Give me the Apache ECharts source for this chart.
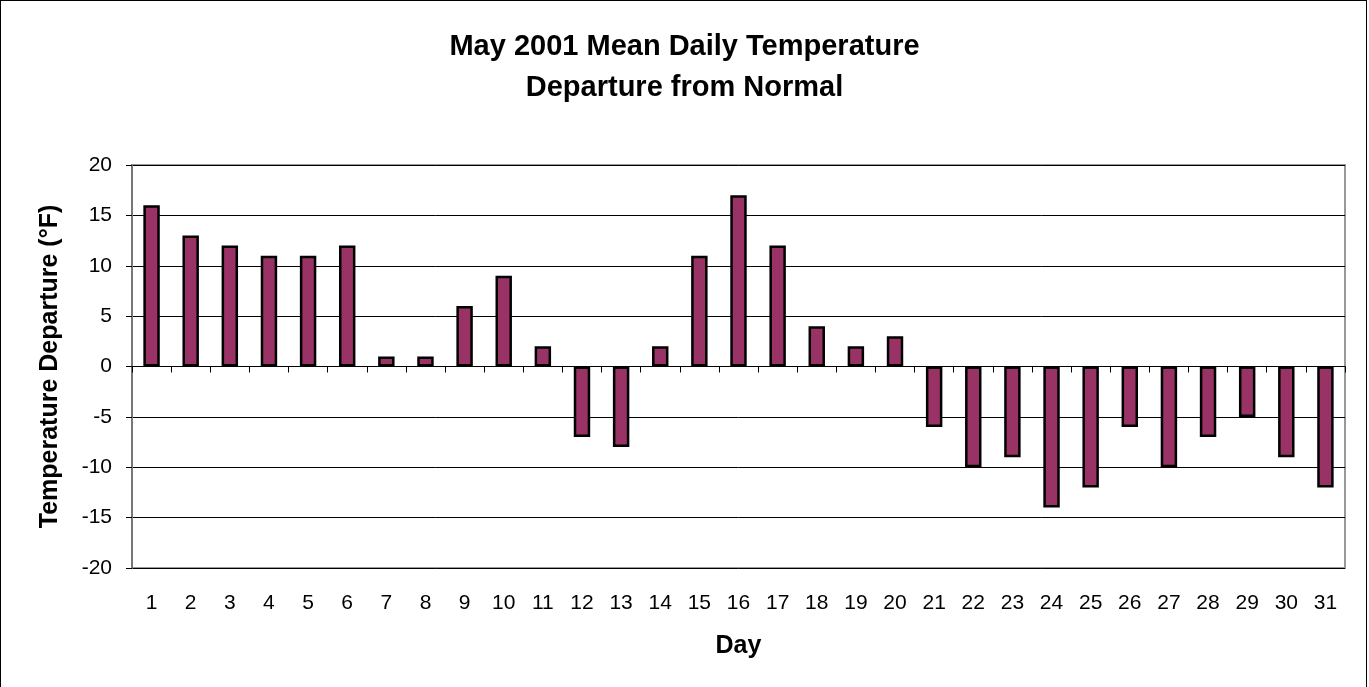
<!DOCTYPE html>
<html>
<head>
<meta charset="utf-8">
<script src="https://cdn.jsdelivr.net/npm/echarts@6/dist/echarts.min.js"></script>
<style>
  html, body { margin: 0; padding: 0; background: #fff; }
  #chart { width: 1369px; height: 687px; }
  #frame { position: absolute; left: 0; top: 0; width: 1365px; height: 686px; border: 1px solid #000; pointer-events: none; }
</style>
</head>
<body>
<div id="chart"></div>
<div id="frame"></div>
<script>
// data
const days = [];
for (let d = 1; d <= 31; d++) days.push(String(d));
const departure = [16, 13, 12, 11, 11, 12, 1, 1, 6, 9, 2, -7, -8, 2, 11, 17, 12, 4, 2, 3,
  -6, -10, -9, -14, -12, -6, -10, -7, -5, -9, -12];

const fontFam = "Liberation Sans, Arial, sans-serif";

const chart = echarts.init(document.getElementById("chart"));
chart.setOption({
  animation: false,
  title: {
    text: "May 2001 Mean Daily Temperature\nDeparture from Normal",
    left: "center",
    top: 21,
    textStyle: { fontFamily: fontFam, fontSize: 29, fontWeight: "bold", color: "#000", lineHeight: 41 }
  },
  grid: {
    left: 132, right: 24, top: 165, bottom: 119,
    show: true, borderColor: "#999", borderWidth: 2, backgroundColor: "#fff"
  },
  xAxis: [
    {
      type: "category",
      data: days,
      axisLine: { onZero: true, lineStyle: { color: "#000", width: 1 } },
      axisTick: { show: true, length: 6, lineStyle: { color: "#000" } },
      axisLabel: { show: false }
    },
    {
      type: "category",
      data: days,
      position: "bottom",
      axisLine: { show: false, onZero: false },
      axisTick: { show: false },
      axisLabel: { fontFamily: fontFam, fontSize: 21, color: "#000", margin: 25 },
      name: "Day",
      nameLocation: "middle",
      nameGap: 66,
      nameTextStyle: { fontFamily: fontFam, fontSize: 25, fontWeight: "bold", color: "#000" }
    }
  ],
  yAxis: {
    type: "value",
    min: -20, max: 20, interval: 5,
    axisLine: { show: true, lineStyle: { color: "#777", width: 2 } },
    axisTick: { show: true, length: 6, lineStyle: { color: "#000" } },
    splitLine: { lineStyle: { color: "#000", width: 1 } },
    axisLabel: { fontFamily: fontFam, fontSize: 21, color: "#000", margin: 20 },
    name: "Temperature Departure (°F)",
    nameLocation: "middle",
    nameGap: 69,
    nameTextStyle: { fontFamily: fontFam, fontSize: 25, fontWeight: "bold", color: "#000" }
  },
  series: [
    {
      type: "bar",
      xAxisIndex: 0,
      data: departure,
      barWidth: "42%",
      itemStyle: { color: "#993366", borderColor: "#000", borderWidth: 2.5 }
    }
  ]
});
</script>
</body>
</html>
